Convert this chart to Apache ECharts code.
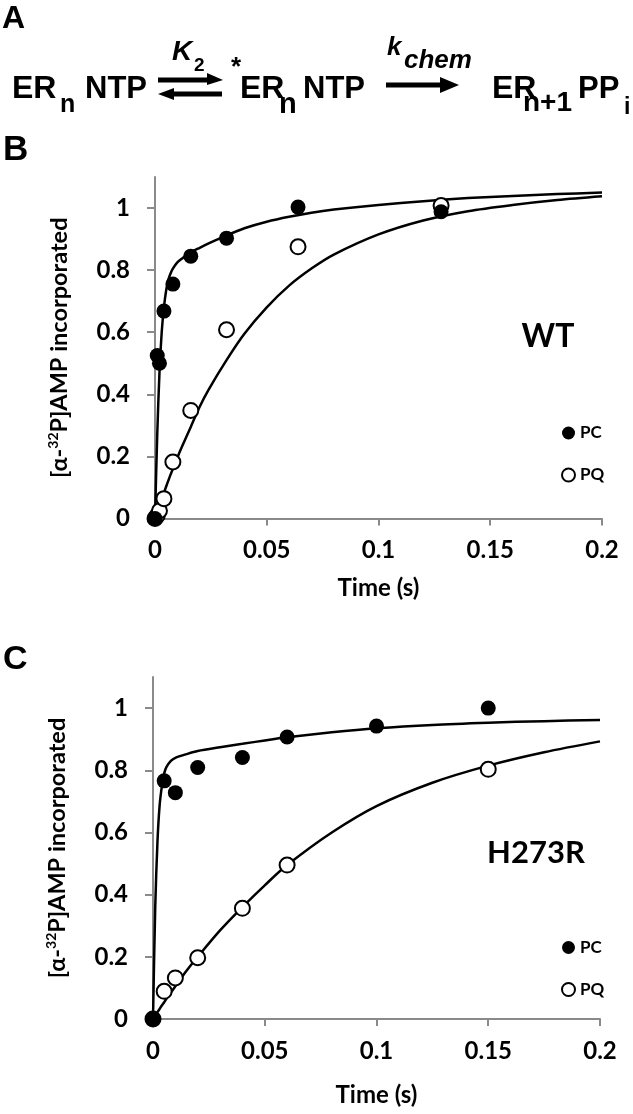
<!DOCTYPE html>
<html><head><meta charset="utf-8">
<script src="https://cdn.jsdelivr.net/npm/echarts@6/dist/echarts.min.js"></script>
<style>html,body{margin:0;padding:0;background:#fff}#c{width:633px;height:1114px}</style>
</head><body><div id="c"></div>
<script>
// ---- tick labels ----
const xTicks = [0, 0.05, 0.1, 0.15, 0.2];
const yTicks = [0, 0.2, 0.4, 0.6, 0.8, 1];
const legendNames = ['PC', 'PQ'];

// ---- Panel B (WT) measured points ----
const wtTime = [0, 0.001, 0.002, 0.004, 0.008, 0.016, 0.032, 0.064, 0.128];
const wtPC   = [0, 0.525, 0.50, 0.668, 0.755, 0.845, 0.903, 1.003, 0.988];
const wtPQ   = [0, 0.01, 0.025, 0.064, 0.182, 0.348, 0.608, 0.875, 1.008];
// ---- Panel B fitted curves ----
const wtFitTime = [0, 0.001, 0.002, 0.003, 0.004, 0.005, 0.006, 0.007, 0.008, 0.01, 0.012, 0.016, 0.02, 0.024, 0.032, 0.04, 0.05, 0.06, 0.07, 0.08, 0.1, 0.12, 0.14, 0.16, 0.18, 0.2];
const wtFitPC   = [0, 0.27, 0.47, 0.6, 0.68, 0.735, 0.77, 0.79, 0.805, 0.825, 0.837, 0.857, 0.872, 0.886, 0.912, 0.935, 0.956, 0.972, 0.985, 0.995, 1.01, 1.022, 1.032, 1.039, 1.045, 1.05];
const wtFitPQ   = [0, 0.018, 0.04, 0.062, 0.083, 0.103, 0.123, 0.142, 0.16, 0.196, 0.23, 0.295, 0.36, 0.415, 0.51, 0.595, 0.68, 0.75, 0.805, 0.85, 0.915, 0.96, 0.99, 1.01, 1.026, 1.038];

// ---- Panel C (H273R) measured points ----
const mutTimePC = [0, 0.005, 0.01, 0.02, 0.04, 0.06, 0.1, 0.15];
const mutPC     = [0, 0.766, 0.728, 0.809, 0.841, 0.907, 0.942, 1.0];
const mutTimePQ = [0, 0.005, 0.01, 0.02, 0.04, 0.06, 0.15];
const mutPQ     = [0, 0.089, 0.132, 0.197, 0.356, 0.495, 0.803];
// ---- Panel C fitted curves ----
const mutFitTime = [0, 0.001, 0.002, 0.003, 0.004, 0.005, 0.006, 0.008, 0.01, 0.015, 0.02, 0.03, 0.04, 0.05, 0.06, 0.08, 0.1, 0.125, 0.15, 0.175, 0.2];
const mutFitPC   = [0, 0.36, 0.57, 0.69, 0.75, 0.79, 0.81, 0.83, 0.84, 0.852, 0.862, 0.874, 0.885, 0.896, 0.906, 0.922, 0.935, 0.946, 0.953, 0.958, 0.962];
const mutFitPQ   = [0, 0.011, 0.022, 0.033, 0.044, 0.054, 0.065, 0.085, 0.105, 0.155, 0.2, 0.285, 0.36, 0.43, 0.495, 0.6, 0.685, 0.76, 0.815, 0.858, 0.893];

const FONT = 'Lato';
const SCH = 'Liberation Sans';
const AX = '#8a8a8a';
const zip = (a, b) => a.map((v, i) => [v, b[i]]);

function xAxis(gi, gap) {
  return {
    type: 'value', gridIndex: gi, min: 0, max: 0.2, interval: 0.05,
    name: 'Time (s)', nameLocation: 'middle', nameGap: gap,
    nameTextStyle: { fontFamily: FONT, fontWeight: 'bold', fontSize: 24, color: '#000' },
    axisLine: { show: true, onZero: false, lineStyle: { color: AX, width: 2 } },
    axisTick: { show: true, length: 7, lineStyle: { color: AX, width: 2 }, customValues: xTicks },
    axisLabel: { margin: 20, fontFamily: FONT, fontWeight: 'bold', fontSize: 24, color: '#000', customValues: xTicks },
    splitLine: { show: false }
  };
}
function yAxis(gi) {
  return {
    type: 'value', gridIndex: gi, min: 0, max: 1.1,
    name: '[α-{sup|32}P]AMP incorporated', nameLocation: 'middle', nameGap: 82,
    nameTextStyle: { fontFamily: FONT, fontWeight: 'bold', fontSize: 23.5, color: '#000', lineHeight: 27,
      rich: { sup: { fontFamily: FONT, fontWeight: 'bold', fontSize: 14, lineHeight: 15, verticalAlign: 'top', color: '#000' } } },
    axisLine: { show: true, onZero: false, lineStyle: { color: AX, width: 2 } },
    axisTick: { show: true, length: 8, lineStyle: { color: AX, width: 2 }, customValues: yTicks },
    axisLabel: { margin: 25, fontFamily: FONT, fontWeight: 'bold', fontSize: 24, color: '#000', customValues: yTicks,
      formatter: v => (v > 1.05 ? '' : String(v)) },
    splitLine: { show: false }
  };
}
function fit(name, xi, t, y) {
  return { name, type: 'line', xAxisIndex: xi, yAxisIndex: xi, data: zip(t, y), showSymbol: false, symbol: 'none',
    smooth: 0.3, lineStyle: { color: '#000', width: 2.5 }, z: 2, silent: true };
}
function pts(name, xi, t, y, open) {
  return { name, type: 'scatter', xAxisIndex: xi, yAxisIndex: xi, data: zip(t, y), symbol: 'circle', symbolSize: 15,
    itemStyle: open ? { color: '#fff', borderColor: '#000', borderWidth: 2, opacity: 1 } : { color: '#000', borderColor: '#000', borderWidth: 0, opacity: 1 },
    z: open ? 3 : 4 };
}
function legend(top) {
  return { data: legendNames, orient: 'vertical', left: 556, top, itemWidth: 13, itemHeight: 13, itemGap: 25, icon: 'circle',
    textStyle: { fontFamily: FONT, fontWeight: 'bold', fontSize: 17, color: '#000', lineHeight: 17 }, selectedMode: false };
}
function t(text, x, y, size, opt) {
  opt = opt || {};
  return { type: 'text', x, y, silent: true, style: { text, fill: '#000',
    fontStyle: opt.italic ? 'italic' : 'normal', fontWeight: 'bold', fontSize: size, fontFamily: opt.family || SCH,
    align: opt.align || 'left', verticalAlign: 'middle' } };
}
function line(x1, y1, x2, y2) {
  return { type: 'line', silent: true, shape: { x1, y1, x2, y2 }, style: { stroke: '#000', lineWidth: 5 } };
}
function head(points) {
  return { type: 'polygon', silent: true, shape: { points }, style: { fill: '#000' } };
}

const chart = echarts.init(document.getElementById('c'), null, { renderer: 'canvas' });
chart.setOption({
  backgroundColor: '#fff',
  animation: false,
  grid: [
    { left: 155, right: 31, top: 177, height: 341.5 },
    { left: 153, right: 33, top: 677, height: 342 }
  ],
  xAxis: [xAxis(0, 58), xAxis(1, 64)],
  yAxis: [yAxis(0), yAxis(1)],
  legend: [legend(419.5), legend(934)],
  series: [
    fit('fitPC', 0, wtFitTime, wtFitPC),
    fit('fitPQ', 0, wtFitTime, wtFitPQ),
    pts('PQ', 0, wtTime, wtPQ, true),
    pts('PC', 0, wtTime, wtPC, false),
    fit('fitPC2', 1, mutFitTime, mutFitPC),
    fit('fitPQ2', 1, mutFitTime, mutFitPQ),
    pts('PQ', 1, mutTimePQ, mutPQ, true),
    pts('PC', 1, mutTimePC, mutPC, false)
  ],
  graphic: [
    t('A', 2, 19, 32),
    t('B', 3, 150, 35),
    t('C', 3, 660, 34),
    // reaction scheme
    t('ER', 12, 89, 32), t('n', 60, 105, 25), t('NTP', 85, 89, 31),
    line(158, 80, 212, 80), head([[207, 73], [223, 80], [207, 85]]),
    line(168, 94, 222, 94), head([[174, 88], [158, 94], [174, 100]]),
    t('K', 172, 52.5, 28, { italic: true }), t('2', 194, 66, 19),
    t('*', 231, 68, 26),
    t('ER', 240, 89, 32), t('n', 279, 105, 29), t('NTP', 303, 89, 31),
    line(386, 85, 446, 85), head([[440, 77], [459, 85], [440, 93]]),
    t('k', 387, 47.5, 26, { italic: true }), t('chem', 404, 60.5, 26, { italic: true }),
    t('ER', 492, 89, 32), t('n+1', 523, 103, 28), t('PP', 578, 89, 31), t('i', 624, 108, 23),
    // panel labels
    t('WT', 548, 337, 32, { family: FONT, align: 'center' }),
    t('H273R', 536, 853, 31, { family: FONT, align: 'center' })
  ]
});
</script></body></html>
